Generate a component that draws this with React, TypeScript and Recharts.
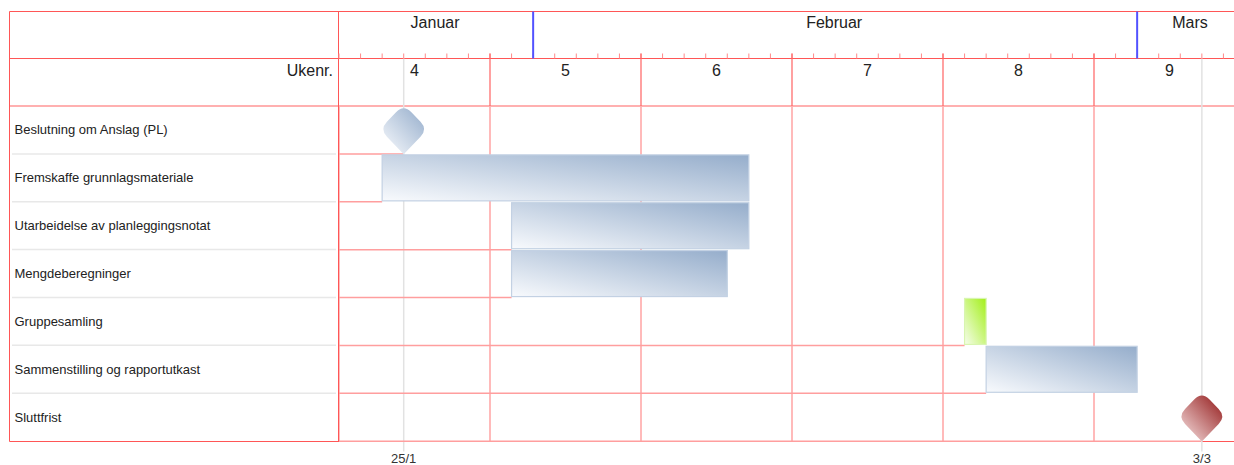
import React from "react";
import { Bar, CartesianGrid, ComposedChart, XAxis, YAxis } from "recharts";

const tasks = [
  "Beslutning om Anslag (PL)",
  "Fremskaffe grunnlagsmateriale",
  "Utarbeidelse av planleggingsnotat",
  "Mengdeberegninger",
  "Gruppesamling",
  "Sammenstilling og rapportutkast",
  "Sluttfrist",
];
const kinds = ["milestone", "task", "task", "task", "group", "task", "deadline"];
const startDates = ["2017-01-25", "2017-01-25", "2017-01-31", "2017-01-31", "2017-02-21", "2017-02-22", "2017-03-03"];
const endDates = ["2017-01-25", "2017-02-10", "2017-02-10", "2017-02-09", "2017-02-21", "2017-02-28", "2017-03-03"];

const weekNumbers = [4, 5, 6, 7, 8, 9];
const weekStarts = ["2017-01-23", "2017-01-30", "2017-02-06", "2017-02-13", "2017-02-20", "2017-02-27"];
const monthNames = ["Januar", "Februar", "Mars"];
const monthStarts = ["2017-01-01", "2017-02-01", "2017-03-01"];
const monthEnds = ["2017-02-01", "2017-03-01", "2017-04-01"];
const milestoneDates = ["2017-01-25", "2017-03-03"];
const milestoneLabels = ["25/1", "3/3"];

const CHART_START = "2017-01-23";
const CHART_END = "2017-03-06";

const day = (s: string) => (Date.parse(s) - Date.parse(CHART_START)) / 86400000;
const LAST_DAY = day(CHART_END);

// layout (svg coords)
const TOP = 3.5;
const MONTH_BOTTOM = 50.5;
const PLOT_TOP = 98;
const PLOT_BOTTOM = 433.5;
const LEFT = 1.5;
const PLOT_LEFT = 330.5;
const RIGHT = 1237;
const GAP = 1;
const AX_H = 1;
const FONT = "'Liberation Sans', Arial, sans-serif";
const RED = "#ff5656";

const data = tasks.map((task, i) => {
  const point = kinds[i] === "milestone" || kinds[i] === "deadline";
  const s = day(startDates[i]);
  const e = day(endDates[i]) + 1;
  return { task, kind: kinds[i], span: point ? [e, e] : [s, e] };
});

const weekStartDays = weekStarts.map(day);
const weekCenters = weekStartDays.map((d) => d + 3.5);
const monthStartDays = monthStarts.map(day);
const monthCenters = monthStarts.map(
  (m, i) => (Math.max(day(m), 0) + Math.min(day(monthEnds[i]), LAST_DAY)) / 2
);
const milestoneDays = milestoneDates.map((d) => day(d) + 1);
const dayTicks = Array.from({ length: LAST_DAY + 1 }, (_, i) => i);

// rounded diamond: softer top/sides, sharp bottom point
function diamondPath(cx: number, cy: number, hw: number, hh: number) {
  const T = [cx, cy - hh], R = [cx + hw, cy], B = [cx, cy + hh], L = [cx - hw, cy];
  const lerp = (p: number[], q: number[], f: number) => [p[0] + (q[0] - p[0]) * f, p[1] + (q[1] - p[1]) * f];
  const t = 0.32, s = 0.3, b = 0.05;
  const p1 = lerp(T, R, t), p2 = lerp(R, T, s), p3 = lerp(R, B, s), p4 = lerp(B, R, b);
  const p5 = lerp(B, L, b), p6 = lerp(L, B, s), p7 = lerp(L, T, s), p8 = lerp(T, L, t);
  return `M${p1} L${p2} Q${R} ${p3} L${p4} Q${B} ${p5} L${p6} Q${L} ${p7} L${p8} Q${T} ${p1} Z`;
}

function TaskShape(props: any) {
  const { x, y, width, height, payload } = props;
  const top = y - GAP;
  const bottom = y + height + GAP;
  const kind = payload.kind;
  const point = kind === "milestone" || kind === "deadline";
  const hh = 25;
  return (
    <g>
      <line x1={PLOT_LEFT} x2={x} y1={bottom} y2={bottom} stroke="#ff9e9e" strokeWidth={1.5} />
      {point ? (
        <g>
          <line x1={x} x2={x} y1={MONTH_BOTTOM} y2={PLOT_BOTTOM + 10} stroke="#e2e2e2" strokeWidth={1.5} />
          <path
            d={diamondPath(x, bottom - hh * 0.97 - 0.5, 24, hh)}
            fill={kind === "deadline" ? "url(#gradRed)" : "url(#gradBlue)"}
          />
        </g>
      ) : (
        <rect
          x={x}
          y={y}
          width={width}
          height={height}
          fill={kind === "group" ? "url(#gradGreen)" : "url(#gradBlue)"}
          stroke={kind === "group" ? "#d8f5b0" : "#c3d1e3"}
          strokeWidth={1.2}
        />
      )}
    </g>
  );
}

function DayTick(props: any) {
  const { x, payload } = props;
  const d = payload.value;
  return (
    <g>
      <line x1={x} x2={x} y1={MONTH_BOTTOM - 5} y2={MONTH_BOTTOM} stroke="#ff8a8a" />
      {weekStartDays.includes(d) && d > 0 && (
        <line x1={x} x2={x} y1={MONTH_BOTTOM - 5} y2={PLOT_TOP} stroke="#ff6262" strokeWidth={1.2} />
      )}
      {monthStartDays.includes(d) && (
        <line x1={x} x2={x} y1={TOP} y2={MONTH_BOTTOM} stroke="#5252ff" strokeWidth={2} />
      )}
    </g>
  );
}

function WeekTick(props: any) {
  const { x, payload } = props;
  const i = weekCenters.indexOf(payload.value);
  return (
    <text x={x} y={68} textAnchor="middle" fontSize={16} fill="#222" fontFamily={FONT}>
      {weekNumbers[i]}
    </text>
  );
}

function MonthTick(props: any) {
  const { x, payload } = props;
  const i = monthCenters.indexOf(payload.value);
  return (
    <text x={x - 1} y={20} textAnchor="middle" fontSize={16} fill="#222" fontFamily={FONT}>
      {monthNames[i]}
    </text>
  );
}

function DateTick(props: any) {
  const { x, payload } = props;
  const i = milestoneDays.indexOf(payload.value);
  return (
    <text x={x} y={PLOT_BOTTOM + 21} textAnchor="middle" fontSize={13} fill="#333" fontFamily={FONT}>
      {milestoneLabels[i]}
    </text>
  );
}

function EmptyTick() {
  return <g />;
}

function TaskTick(props: any) {
  const { y, payload, index } = props;
  const rowH = (PLOT_BOTTOM - PLOT_TOP) / tasks.length;
  return (
    <g>
      <text x={6.5} y={y + 4.5} fontSize={13} fill="#222" fontFamily={FONT}>
        {payload.value}
      </text>
      {index < tasks.length - 1 && (
        <line x1={4} x2={328} y1={y + rowH / 2} y2={y + rowH / 2} stroke="#e8e8e8" strokeWidth={1.5} />
      )}
    </g>
  );
}

function Frame() {
  return (
    <g>
      <line x1={LEFT} x2={RIGHT} y1={TOP} y2={TOP} stroke={RED} />
      <line x1={LEFT} x2={RIGHT} y1={MONTH_BOTTOM} y2={MONTH_BOTTOM} stroke={RED} />
      <line x1={LEFT} x2={RIGHT} y1={PLOT_TOP} y2={PLOT_TOP} stroke="#ffb0b0" strokeWidth={2} />
      <line x1={LEFT} x2={RIGHT} y1={PLOT_BOTTOM} y2={PLOT_BOTTOM} stroke={RED} />
      <line x1={LEFT} x2={LEFT} y1={TOP} y2={PLOT_BOTTOM} stroke={RED} />
      <line x1={PLOT_LEFT} x2={PLOT_LEFT} y1={TOP} y2={PLOT_BOTTOM} stroke={RED} />
      <text x={325} y={68} textAnchor="end" fontSize={16} fill="#222" fontFamily={FONT}>
        Ukenr.
      </text>
    </g>
  );
}

const axisCommon = {
  type: "number" as const,
  domain: [0, LAST_DAY],
  allowDataOverflow: true,
  interval: 0,
  height: AX_H,
  axisLine: false,
  tickLine: false,
};

export default function App() {
  return (
    <div style={{ position: "absolute", left: 8, top: 8, width: 1226, height: 457, overflow: "hidden", background: "#fff" }}>
      <ComposedChart
        width={1238}
        height={457}
        data={data}
        layout="vertical"
        margin={{ top: PLOT_TOP - 4 * AX_H, right: 1, bottom: 24 - AX_H, left: 1 }}
        barCategoryGap={GAP}
      >
        <defs>
          <linearGradient id="gradBlue" x1="0" y1="1" x2="1" y2="0">
            <stop offset="0%" stopColor="#f8fafd" />
            <stop offset="100%" stopColor="#95adcb" />
          </linearGradient>
          <linearGradient id="gradGreen" x1="0" y1="1" x2="1" y2="0">
            <stop offset="0%" stopColor="#f6fdec" />
            <stop offset="100%" stopColor="#a2ef18" />
          </linearGradient>
          <linearGradient id="gradRed" x1="0" y1="1" x2="1" y2="0">
            <stop offset="0%" stopColor="#f7e2e2" />
            <stop offset="100%" stopColor="#921818" />
          </linearGradient>
        </defs>
        <CartesianGrid xAxisId="grid" horizontal={false} stroke="#ff8c8c" strokeWidth={1.2} />
        <XAxis xAxisId="grid" orientation="top" ticks={weekStartDays} tick={<EmptyTick />} {...axisCommon} />
        <XAxis xAxisId="day" orientation="top" ticks={dayTicks} tick={<DayTick />} {...axisCommon} />
        <XAxis xAxisId="week" orientation="top" ticks={weekCenters} tick={<WeekTick />} {...axisCommon} />
        <XAxis xAxisId="month" orientation="top" ticks={monthCenters} tick={<MonthTick />} {...axisCommon} />
        <XAxis xAxisId="date" orientation="bottom" ticks={milestoneDays} tick={<DateTick />} {...axisCommon} />
        <YAxis type="category" dataKey="task" width={330} axisLine={false} tickLine={false} interval={0} tick={<TaskTick />} />
        <Bar xAxisId="day" dataKey="span" shape={<TaskShape />} isAnimationActive={false} />
        <Frame />
      </ComposedChart>
    </div>
  );
}
